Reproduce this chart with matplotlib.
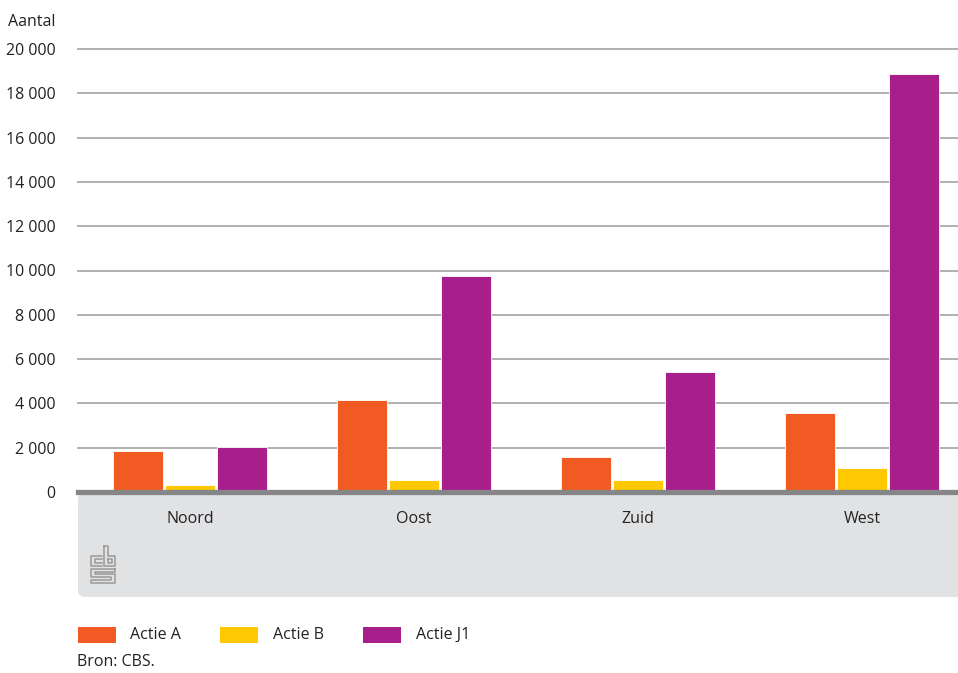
import matplotlib.pyplot as plt
import numpy as np
from matplotlib.patches import FancyBboxPatch, Rectangle
from matplotlib.lines import Line2D

regions = ['Noord', 'Oost', 'Zuid', 'West']
series = ['Actie A', 'Actie B', 'Actie J1']
actie_a = [1870, 4140, 1560, 3560]
actie_b = [310, 550, 550, 1090]
actie_j1 = [2010, 9770, 5440, 18870]
yticks = [0, 2000, 4000, 6000, 8000, 10000, 12000, 14000, 16000, 18000, 20000]
colors = ['#f15a22', '#ffc800', '#a81f8b']

plt.rcParams['font.family'] = ['Open Sans', 'DejaVu Sans']
W, H = 958, 673
fig = plt.figure(figsize=(W / 100, H / 100), dpi=100)

def fx(px):
    return px / W

def fy(py):
    return 1 - py / H

# grey band under the axis (pixel coords, rounded bottom-left)
band = FancyBboxPatch((78, H - 597), 900, 597 - 492,
                      boxstyle='round,pad=0,rounding_size=7',
                      transform=None, facecolor='#e1e2e4', edgecolor='none', zorder=-5)
fig.patches.append(band)

ax = fig.add_axes([fx(78), fy(492), fx(958) - fx(78), fy(49) - fy(492)], zorder=2)
ax.set_facecolor('none')
x = np.arange(len(regions))
w = 0.222
off = 0.232
for i, vals in enumerate([actie_a, actie_b, actie_j1]):
    ax.bar(x + (i - 1) * off, vals, width=w, color=colors[i],
           edgecolor='white', linewidth=0.6, zorder=3)

ax.set_xlim(-0.5, 3 + 96 / 224)
ax.set_ylim(0, 20000)
for t in yticks[1:]:
    ax.axhline(t, color='#b0b0b0', lw=1.4, zorder=1, clip_on=False)
ax.axhline(0, color='#858688', lw=3.8, zorder=4, clip_on=False)

for s in ax.spines.values():
    s.set_visible(False)
ax.set_yticks(yticks)
ax.set_yticklabels([f'{v:,}'.replace(',', ' ') for v in yticks], fontsize=11.5, color='#222222')
ax.tick_params(axis='y', length=0, pad=16)
ax.set_xticks(x)
ax.set_xticklabels(regions, fontsize=11.5, color='#222222')
ax.tick_params(axis='x', length=0, pad=14)

fig.text(fx(8), fy(22), 'Aantal', fontsize=11.5, color='#222222', va='center', ha='left')

# cbs logo approximation
lc = '#9a9a9a'
def poly(pts):
    xs = [p[0] for p in pts]
    ys = [H - p[1] for p in pts]
    fig.lines.append(Line2D(xs, ys, transform=None, color=lc, lw=1.1))
poly([(102, 556), (91, 556), (91, 566), (102, 566)])
poly([(102, 559), (95, 559), (95, 563), (102, 563)])
poly([(104, 546), (104, 566), (115, 566), (115, 556), (108, 556), (108, 546), (104, 546)])
poly([(108, 559), (112, 559), (112, 563), (108, 563), (108, 559)])
poly([(115, 569), (91, 569), (91, 577), (111, 577), (111, 580), (91, 580), (91, 583),
      (115, 583), (115, 574), (95, 574), (95, 572), (115, 572), (115, 569)])

# legend
lx = [78, 220, 363]
tx = [130, 273, 416]
for i, name in enumerate(series):
    fig.patches.append(Rectangle((lx[i], H - 643), 38, 16, transform=None,
                                 facecolor=colors[i], edgecolor='none'))
    fig.text(fx(tx[i]), fy(635), name, fontsize=11.5, color='#222222', va='center', ha='left')

fig.text(fx(77), fy(662), 'Bron: CBS.', fontsize=11.5, color='#222222', va='center', ha='left')

fig.savefig('out.png', dpi=100)
